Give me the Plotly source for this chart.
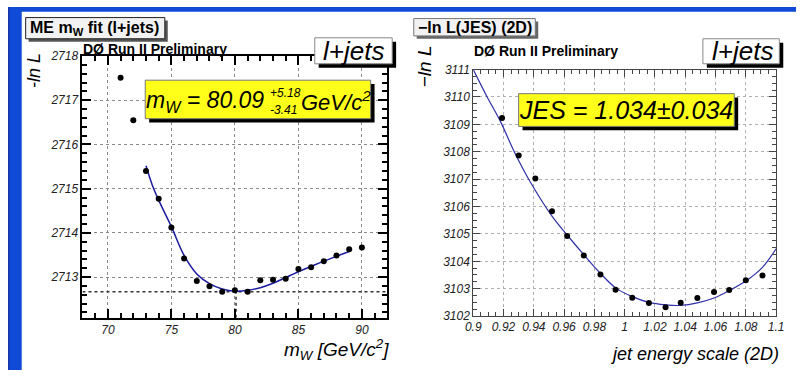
import plotly.graph_objects as go

# ---------------- data ----------------
# left panel: -ln L vs m_W
mw = [71, 72, 73, 74, 75, 76, 77, 78, 79, 80, 81, 82, 83, 84, 85, 86, 87, 88, 89, 90]
mw_nll = [2717.51, 2716.55, 2715.40, 2714.77, 2714.12, 2713.42, 2712.91, 2712.79, 2712.67, 2712.70,
          2712.67, 2712.93, 2712.94, 2712.96, 2713.18, 2713.22, 2713.36, 2713.49, 2713.63, 2713.67]
mw_fit_x = [73.0, 73.5, 74, 75, 76, 77, 78, 79, 80, 81, 82, 83, 84, 85, 86, 87, 88, 89]
mw_fit_y = [2715.52, 2715.08, 2714.74, 2714.14, 2713.49, 2713.07, 2712.85, 2712.73, 2712.68, 2712.70,
            2712.76, 2712.86, 2712.99, 2713.12, 2713.24, 2713.36, 2713.47, 2713.58]
mw_best = 80.09
mw_nll_min = 2712.67
mw_xticks = [70, 75, 80, 85, 90]
mw_xlabels = ["70", "75", "80", "85", "90"]
mw_yticks = [2713, 2714, 2715, 2716, 2717, 2718]
mw_ylabels = ["2713", "2714", "2715", "2716", "2717", "2718"]

# right panel: -ln L vs jet energy scale
jes = [0.919, 0.930, 0.941, 0.952, 0.962, 0.973, 0.984, 0.994, 1.005, 1.016, 1.027, 1.037,
       1.048, 1.059, 1.069, 1.080, 1.091]
jes_nll = [3109.23, 3107.86, 3107.02, 3105.83, 3104.92, 3104.21, 3103.52, 3102.96, 3102.67,
           3102.48, 3102.32, 3102.49, 3102.66, 3102.88, 3102.95, 3103.31, 3103.48]
jes_fit_x = [0.900, 0.909, 0.918, 0.927, 0.937, 0.952, 0.962, 0.973, 0.984, 0.994, 1.005, 1.016,
             1.027, 1.037, 1.048, 1.059, 1.069, 1.080, 1.091, 1.100]
jes_fit_y = [3111.0, 3110.02, 3109.10, 3108.01, 3106.96, 3105.65, 3104.96, 3104.24, 3103.56,
             3103.03, 3102.71, 3102.50, 3102.41, 3102.39, 3102.48, 3102.66, 3102.93, 3103.28,
             3103.78, 3104.46]
jes_xticks = [0.90, 0.92, 0.94, 0.96, 0.98, 1.00, 1.02, 1.04, 1.06, 1.08, 1.10]
jes_xlabels = ["0.9", "0.92", "0.94", "0.96", "0.98", "1", "1.02", "1.04", "1.06", "1.08", "1.1"]
jes_yticks = [3102, 3103, 3104, 3105, 3106, 3107, 3108, 3109, 3110, 3111]
jes_ylabels = ["3102", "3103", "3104", "3105", "3106", "3107", "3108", "3109", "3110", "3111"]

# ---------------- layout helpers ----------------
W, H = 804, 377
FONT = "Liberation Sans"


def fx(x):
    return x / W


def fy(y):
    return 1 - y / H


def ital(labels):
    return ["<i>" + s + "</i>" for s in labels]


fig = go.Figure()

fig.add_trace(go.Scatter(x=[68, 92], y=[mw_nll_min, mw_nll_min], mode="lines",
                         line=dict(color="#333333", width=1.5, dash="dot"),
                         xaxis="x", yaxis="y", hoverinfo="skip"))
fig.add_trace(go.Scatter(x=[mw_best, mw_best], y=[2712.08, mw_nll_min], mode="lines",
                         line=dict(color="#333333", width=1.5, dash="dot"),
                         xaxis="x", yaxis="y", hoverinfo="skip"))
fig.add_trace(go.Scatter(x=mw_fit_x, y=mw_fit_y, mode="lines",
                         line=dict(color="#1c1ca0", width=1.5, shape="spline", smoothing=1.0),
                         xaxis="x", yaxis="y"))
fig.add_trace(go.Scatter(x=mw, y=mw_nll, mode="markers",
                         marker=dict(color="black", size=6),
                         xaxis="x", yaxis="y"))

fig.add_trace(go.Scatter(x=jes_fit_x, y=jes_fit_y, mode="lines",
                         line=dict(color="#3030a8", width=1.2, shape="spline", smoothing=1.0),
                         xaxis="x2", yaxis="y2"))
fig.add_trace(go.Scatter(x=jes, y=jes_nll, mode="markers",
                         marker=dict(color="black", size=6),
                         xaxis="x2", yaxis="y2"))

tickfont = dict(family=FONT, size=12, color="#222222", style="italic")

common_axis = dict(showline=True, mirror="allticks", ticks="inside", showgrid=True,
                   griddash="dot", zeroline=False, tickfont=tickfont, tickmode="array")

fig.update_layout(
    width=W, height=H, showlegend=False,
    margin=dict(l=0, r=0, t=0, b=0),
    paper_bgcolor="white", plot_bgcolor="white",
    xaxis=dict(domain=[fx(76), fx(387)], range=[68, 92],
               tickvals=mw_xticks, ticktext=ital(mw_xlabels),
               linecolor="black", linewidth=2, ticklen=9, tickwidth=1.5, tickcolor="black",
               gridcolor="#8a8a8a", gridwidth=1,
               minor=dict(dtick=1, tick0=70, ticks="inside", ticklen=5, tickcolor="black", showgrid=False),
               anchor="y", **common_axis),
    yaxis=dict(domain=[fy(322.7), fy(51)], range=[2712.08, 2718],
               tickvals=mw_yticks, ticktext=ital(mw_ylabels),
               linecolor="black", linewidth=2, ticklen=9, tickwidth=1.5, tickcolor="black",
               gridcolor="#8a8a8a", gridwidth=1,
               minor=dict(dtick=0.2, tick0=2713, ticks="inside", ticklen=5, tickcolor="black", showgrid=False),
               anchor="x", **common_axis),
    xaxis2=dict(domain=[fx(474.7), fx(783.7)], range=[0.9, 1.1],
                tickvals=jes_xticks, ticktext=ital(jes_xlabels),
                linecolor="#444444", linewidth=1, ticklen=7, tickwidth=1, tickcolor="#444444",
                gridcolor="#b0b0b0", gridwidth=1,
                minor=dict(dtick=0.005, tick0=0.9, ticks="inside", ticklen=4, tickcolor="#444444", showgrid=False),
                anchor="y2", **common_axis),
    yaxis2=dict(domain=[fy(321), fy(65)], range=[3102, 3111],
                tickvals=jes_yticks, ticktext=ital(jes_ylabels),
                linecolor="#444444", linewidth=1, ticklen=7, tickwidth=1, tickcolor="#444444",
                gridcolor="#b0b0b0", gridwidth=1,
                minor=dict(dtick=0.25, tick0=3102, ticks="inside", ticklen=4, tickcolor="#444444", showgrid=False),
                anchor="x2", **common_axis),
)

shapes = []
# blue slide background strips
shapes.append(dict(type="rect", xref="paper", yref="paper", x0=0, x1=fx(14), y0=0, y1=1,
                   fillcolor="#0f4bd6", line=dict(width=0), layer="below"))
shapes.append(dict(type="rect", xref="paper", yref="paper", x0=0, x1=1, y0=fy(5), y1=1,
                   fillcolor="#0f4bd6", line=dict(width=0), layer="below"))
shapes.append(dict(type="rect", xref="paper", yref="paper", x0=0, x1=fx(1.5), y0=0, y1=1,
                   fillcolor="#1a36a8", line=dict(width=0), layer="below"))


def box(x0, y0, x1, y1, fill, border, shadow, sh=4, bw=1):
    shapes.append(dict(type="rect", xref="paper", yref="paper",
                       x0=fx(x0 + sh), x1=fx(x1 + sh), y0=fy(y1 + sh), y1=fy(y0 + sh),
                       fillcolor=shadow, line=dict(width=0), layer="above"))
    shapes.append(dict(type="rect", xref="paper", yref="paper",
                       x0=fx(x0), x1=fx(x1), y0=fy(y1), y1=fy(y0),
                       fillcolor=fill, line=dict(color=border, width=bw), layer="above"))


# title boxes
box(18, 11, 160, 33, "#f2f2f2", "#222222", "#555555", sh=3)
box(414, 12, 538, 30, "#f2f2f2", "#777777", "#666666", sh=3)
# l+jets boxes
box(313, 32, 392, 59, "white", "#888888", "black", sh=4)
box(709, 33, 787, 59, "white", "#888888", "black", sh=4)
# yellow result boxes
box(140, 76, 370, 116, "#ffff1a", "#777777", "black", sh=4)
box(521, 90, 741, 124, "#ffff1a", "#777777", "black", sh=4)

fig.update_layout(shapes=shapes)

ann = []


def text(x, y, s, size, xanchor="center", bold=False, italic=False, color="black", angle=0):
    ann.append(dict(x=fx(x), y=fy(y), xref="paper", yref="paper", text=s, showarrow=False,
                    xanchor=xanchor, yanchor="middle", textangle=angle, borderpad=0,
                    font=dict(family=FONT, size=size, color=color,
                              weight="bold" if bold else "normal",
                              style="italic" if italic else "normal")))


# left panel texts
text(21, 22, "ME m<sub>W</sub> fit (l+jets)", 16, xanchor="left", bold=True)
text(75, 44, "DØ Run II Preliminary", 14, xanchor="left", bold=True)
text(353, 46, "l+jets", 26, italic=True)
text(140, 98, "m<sub>W</sub> = 80.09", 23, xanchor="left", italic=True)
text(266, 89, "+5.18", 12, xanchor="left", italic=True)
text(266, 107, "-3.41", 12, xanchor="left", italic=True)
text(298, 98, "GeV/c<sup>2</sup>", 22, xanchor="left", italic=True)
text(26, 66, "-ln L", 18, italic=True, angle=-90)
text(390, 356, "m<sub>W</sub> [GeV/c<sup>2</sup>]", 19, xanchor="right", italic=True)

# right panel texts
text(417, 21, "−ln L(JES) (2D)", 16, xanchor="left", bold=True)
text(474, 46, "DØ Run II Preliminary", 14, xanchor="left", bold=True)
text(749, 46, "l+jets", 26, italic=True)
text(631, 107, "JES = 1.034±0.034", 25, italic=True)
text(425, 62, "−ln L", 19, italic=True, angle=-90)
text(788, 360, "jet energy scale (2D)", 18, xanchor="right", italic=True)

fig.update_layout(annotations=ann)

fig.write_html("out.html")
